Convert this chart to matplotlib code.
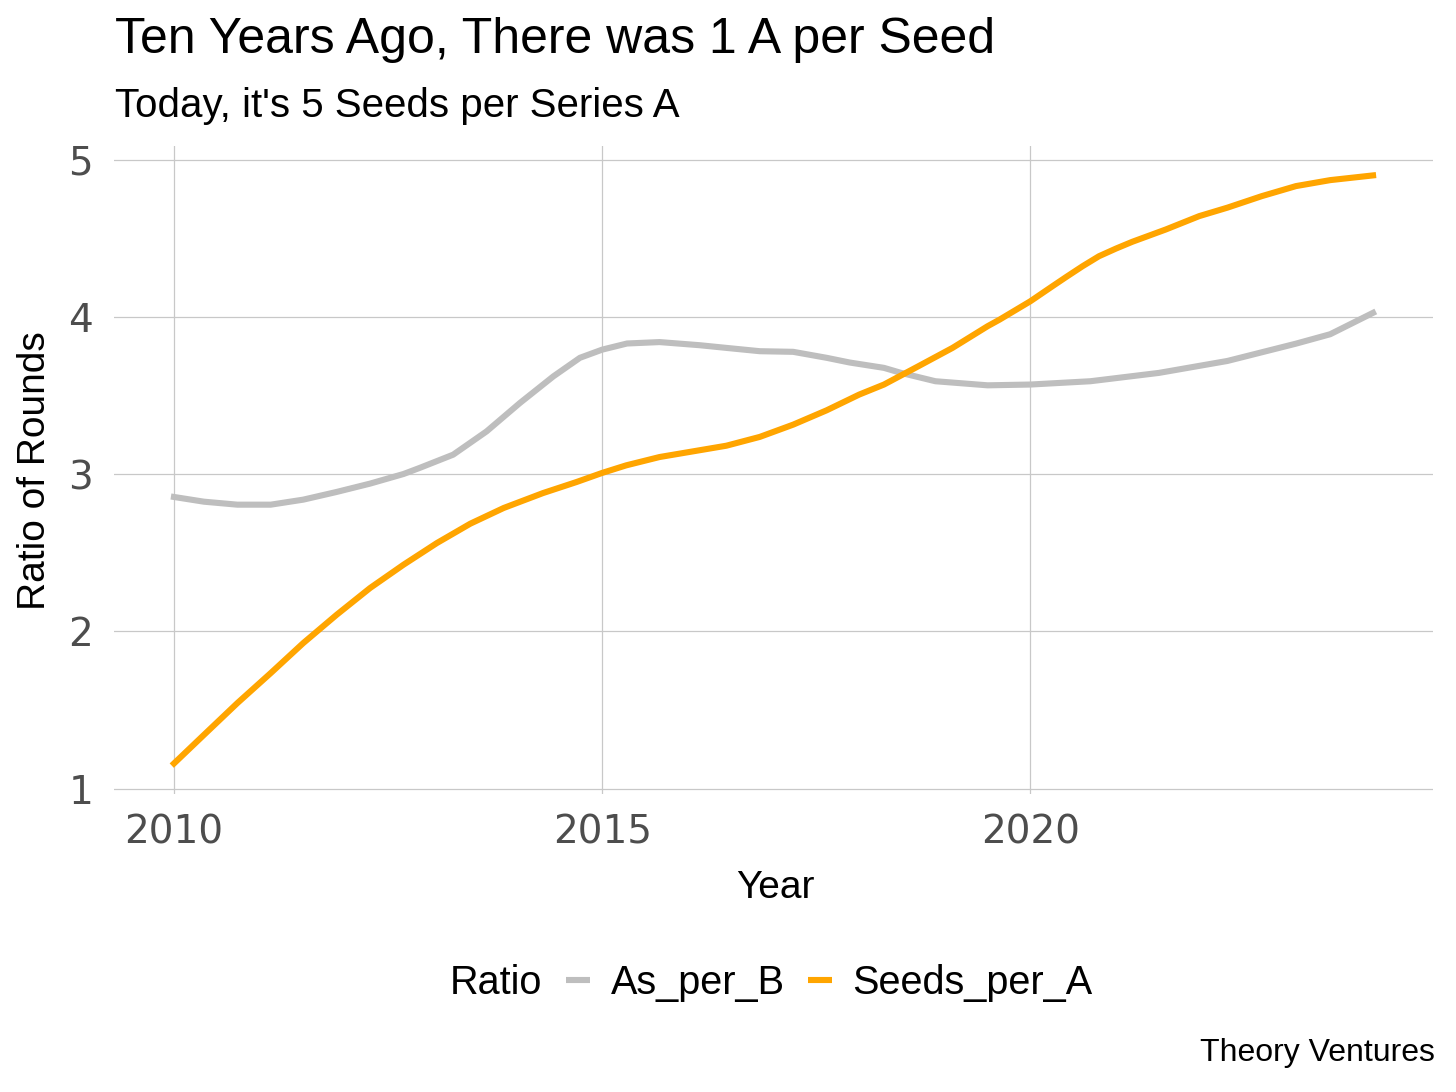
import matplotlib.pyplot as plt
from matplotlib.lines import Line2D

# values
seeds_years = [2010.0, 2010.35, 2010.74, 2011.13, 2011.51, 2011.9, 2012.29, 2012.68,
               2013.07, 2013.46, 2013.85, 2014.31, 2014.7, 2015.0, 2015.28, 2015.67,
               2016.06, 2016.45, 2016.84, 2017.23, 2017.62, 2018.0, 2018.29, 2018.69,
               2019.09, 2019.5, 2019.64, 2020.0, 2020.27, 2020.42, 2020.61, 2020.8,
               2021.0, 2021.19, 2021.39, 2021.58, 2021.97, 2022.3, 2022.7, 2023.1,
               2023.5, 2024.0]
seeds_per_a = [1.16, 1.342, 1.544, 1.735, 1.926, 2.106, 2.276, 2.424,
               2.562, 2.685, 2.785, 2.88, 2.95, 3.008, 3.056, 3.109,
               3.145, 3.181, 3.237, 3.315, 3.406, 3.506, 3.57, 3.686,
               3.803, 3.941, 3.983, 4.10, 4.20, 4.255, 4.323, 4.386,
               4.435, 4.478, 4.518, 4.556, 4.641, 4.695, 4.768, 4.832,
               4.87, 4.9]

as_years = [2010.0, 2010.35, 2010.74, 2011.13, 2011.51, 2011.9, 2012.29, 2012.68,
            2012.87, 2013.26, 2013.65, 2014.04, 2014.43, 2014.74, 2015.0, 2015.29,
            2015.67, 2016.14, 2016.45, 2016.84, 2017.23, 2017.62, 2017.89, 2018.29,
            2018.49, 2018.89, 2019.5, 2020.0, 2020.7, 2021.5, 2022.3, 2023.1,
            2023.5, 2024.0]
as_per_b = [2.855, 2.825, 2.806, 2.806, 2.838, 2.887, 2.94, 3.001,
            3.04, 3.124, 3.272, 3.453, 3.622, 3.74, 3.792, 3.831,
            3.84, 3.82, 3.803, 3.782, 3.778, 3.74, 3.71, 3.676,
            3.644, 3.591, 3.565, 3.57, 3.591, 3.644, 3.72, 3.83,
            3.89, 4.026]

series_names = ['As_per_B', 'Seeds_per_A']
series_colors = ['#bebebe', '#ffa500']
x_ticks = [2010, 2015, 2020]
y_ticks = [1, 2, 3, 4, 5]

TEXT_FONT = ['Liberation Sans', 'DejaVu Sans']
TICK_FONT = ['DejaVu Sans']
W, H = 1456, 1092

fig = plt.figure(figsize=(14.56, 10.92), dpi=100)
ax = fig.add_axes([114 / W, 0.2729, (1433 - 114) / W, 0.8663 - 0.2729])

ax.plot(as_years, as_per_b, color=series_colors[0], lw=4.4, solid_joinstyle='round')
ax.plot(seeds_years, seeds_per_a, color=series_colors[1], lw=4.4, solid_joinstyle='round')

ax.set_xlim(2009.3, 2024.7)
ax.set_ylim(0.966, 5.087)
ax.set_xticks(x_ticks)
ax.set_yticks(y_ticks)
ax.grid(True, color='#c8c8c8', lw=0.9)
ax.set_axisbelow(True)
for s in ax.spines.values():
    s.set_visible(False)
ax.tick_params(length=0, labelcolor='#4d4d4d', labelsize=28)
ax.tick_params(axis='x', pad=14)
ax.tick_params(axis='y', pad=15)
for lab in ax.get_xticklabels() + ax.get_yticklabels():
    lab.set_family(TICK_FONT)

fig.text(775 / W, 1 - 888 / H, 'Year', family=TEXT_FONT, fontsize=28,
         ha='center', va='center')
fig.text(35 / W, 1 - 471 / H, 'Ratio of Rounds', family=TEXT_FONT, fontsize=28,
         ha='center', va='center', rotation=90)

fig.text(115 / W, 1 - 53 / H, 'Ten Years Ago, There was 1 A per Seed',
         family=TEXT_FONT, fontsize=36, va='baseline', ha='left')
fig.text(115 / W, 1 - 117 / H, "Today, it's 5 Seeds per Series A",
         family=TEXT_FONT, fontsize=29, va='baseline', ha='left')

# legend, title on the left like ggplot's bottom legend
fig.text(450 / W, 1 - 983 / H, 'Ratio', family=TEXT_FONT,
         fontsize=28.5, ha='left', va='center')
handles = [Line2D([], [], color=c, lw=4.4, solid_capstyle='butt') for c in series_colors]
fig.legend(handles, series_names, loc='center left',
           bbox_to_anchor=(566 / W, 1 - 983 / H), ncol=2, frameon=False,
           prop={'family': TEXT_FONT, 'size': 28.5}, handlelength=0.6,
           handletextpad=0.53, columnspacing=0.58, borderpad=0, borderaxespad=0)

fig.text(1435 / W, 1 - 1053 / H, 'Theory Ventures', family=TEXT_FONT,
         fontsize=23, ha='right', va='center')

plt.savefig('out.png', dpi=100)
